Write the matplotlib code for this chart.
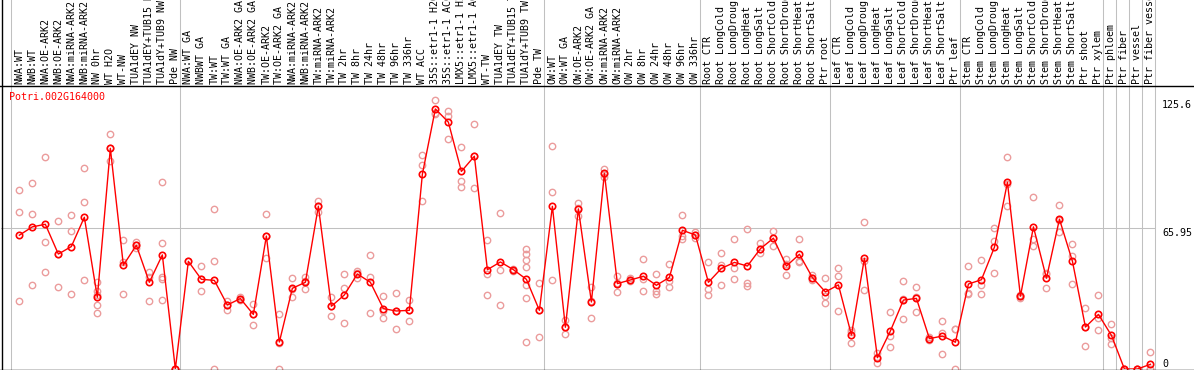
import matplotlib
matplotlib.use("Agg")
import matplotlib.pyplot as plt
import matplotlib.transforms as mtransforms
from matplotlib.lines import Line2D

# sample labels, left to right
labels = ["NWA:WT", "NWB:WT", "NWA:OE-ARK2", "NWB:OE-ARK2", "NWA:miRNA-ARK2", "NWB:miRNA-ARK2",
          "NW 0hr", "WT H2O", "WT-NW", "TUA1dEY NW", "TUA1dEY+TUB15 NW", "TUA1dY+TUB9 NW", "Pde NW",
          "NWA:WT GA", "NWBWT GA", "TW:WT", "TW:WT GA", "NWA:OE-ARK2 GA", "NWB:OE-ARK2 GA",
          "TW:OE-ARK2", "TW:OE-ARK2 GA", "NWA:miRNA-ARK2", "NWB:miRNA-ARK2", "TW:miRNA-ARK2",
          "TW:miRNA-ARK2", "TW 2hr", "TW 8hr", "TW 24hr", "TW 48hr", "TW 96hr", "TW 336hr", "WT ACC",
          "35S::etr1-1 H2O", "35S::etr1-1 ACC", "LMX5::etr1-1 H2O", "LMX5::etr1-1 ACC", "WT-TW",
          "TUA1dEY TW", "TUA1dEY+TUB15 TW", "TUA1dY+TUB9 TW", "Pde TW",
          "OW:WT", "OW:WT GA", "OW:OE-ARK2", "OW:OE-ARK2 GA", "OW:miRNA-ARK2", "OW:miRNA-ARK2",
          "OW 2hr", "OW 8hr", "OW 24hr", "OW 48hr", "OW 96hr", "OW 336hr",
          "Root CTR", "Root LongCold", "Root LongDrought", "Root LongHeat", "Root LongSalt",
          "Root ShortCold", "Root ShortDrought", "Root ShortHeat", "Root ShortSalt", "Ptr root",
          "Leaf CTR", "Leaf LongCold", "Leaf LongDrought", "Leaf LongHeat", "Leaf LongSalt",
          "Leaf ShortCold", "Leaf ShortDrought", "Leaf ShortHeat", "Leaf ShortSalt", "Ptr leaf",
          "Stem CTR", "Stem LongCold", "Stem LongDrought", "Stem LongHeat", "Stem LongSalt",
          "Stem ShortCold", "Stem ShortDrought", "Stem ShortHeat", "Stem ShortSalt", "Ptr shoot",
          "Ptr xylem", "Ptr phloem", "Ptr fiber", "Ptr vessel", "Ptr fiber vessel"]

# mean expression per sample
means = [62.5, 66.4, 67.6, 53.7, 57.2, 70.9, 33.5, 103.1, 48.5, 57.8, 40.5, 53.3, 0.0,
         50.3, 41.9, 41.4, 29.9, 32.9, 25.5, 62.1, 12.6, 37.7, 40.5, 76.0, 29.3, 34.6, 44.4,
         40.5, 28.2, 27.1, 27.4, 91.0, 121.5, 115.3, 92.3, 99.4, 46.4, 50.0, 46.4, 41.9, 27.4,
         76.0, 19.5, 74.8, 31.3, 91.4, 39.9, 41.6, 43.3, 39.1, 42.8, 64.8, 62.6,
         40.5, 47.0, 49.8, 48.1, 56.2, 61.1, 48.1, 53.6, 42.7, 36.0,
         39.3, 15.9, 51.7, 5.3, 17.8, 32.2, 33.0, 14.2, 15.4, 12.5,
         39.7, 41.7, 56.9, 87.2, 34.0, 66.4, 42.4, 70.0, 50.3, 19.6, 25.5,
         15.7, 0.0, 0.0, 2.2]

# individual replicates per sample
replicates = [
    [83.6, 73.2, 31.8], [86.9, 72.3, 39.3], [98.9, 59.2, 45.2], [69.0, 38.2, 53.7],
    [72.0, 64.3, 35.0], [93.8, 77.9, 41.4], [40.5, 36.4, 29.9, 26.3, 34.5], [109.7, 97.2, 103.1],
    [60.1, 50.2, 35.0], [59.5, 57.8, 56.5], [45.5, 43.1, 31.8], [87.2, 58.9, 42.8, 42.0, 32.1],
    [0.0, 0.0, 0.0],
    [50.3], [48.0, 36.4, 41.9], [74.8, 50.3, 0.0], [31.9, 27.6, 29.9], [32.9, 33.5, 32.3],
    [30.5, 20.4, 25.5], [72.3, 51.7, 62.1], [25.7, 0.0, 12.1], [42.4, 33.5, 37.2],
    [43.1, 37.4, 40.9], [78.5, 73.5, 76.0], [33.5, 24.9, 29.5], [44.4, 37.7, 21.5],
    [45.9, 42.4, 44.9], [53.1, 43.1, 26.2], [34.0, 23.7, 26.9], [35.5, 18.7, 27.1],
    [32.1, 22.4, 27.7], [99.8, 95.2, 78.4], [125.6, 119.2, 119.7], [120.6, 118.1, 107.5],
    [103.6, 88.0, 85.2], [114.3, 84.4, 99.4], [60.1, 44.2, 34.4], [72.8, 46.4, 29.8],
    [46.8, 45.9, 46.4], [56.1, 53.6, 51.1, 47.8, 39.4, 33.0, 12.5], [40.0, 14.8, 27.4],
    [104.1, 82.6, 41.4], [22.9, 16.2, 19.5], [77.6, 71.5, 75.3], [38.5, 23.7, 31.7],
    [93.5, 89.6, 91.1], [43.5, 36.0, 40.2], [41.6, 40.9, 42.3], [51.3, 36.4, 42.2],
    [44.2, 36.4, 35.0], [49.1, 38.3, 41.0], [71.8, 60.7, 61.9], [63.9, 61.3, 62.6],
    [49.8, 37.4, 34.6], [54.0, 48.6, 39.3], [60.7, 47.3, 41.9], [65.4, 40.3, 38.8],
    [58.7, 54.0, 56.2], [64.3, 57.6, 61.4], [51.4, 43.8, 49.1], [60.6, 50.3, 49.9],
    [44.1, 41.4, 42.7], [42.4, 34.1, 30.7],
    [47.2, 43.3, 27.1], [18.2, 12.0, 17.5], [68.5, 50.3, 36.9], [7.3, 2.9, 5.7],
    [26.5, 15.6, 10.3], [41.0, 32.6, 23.2], [38.2, 33.8, 26.5], [14.9, 13.5, 14.2],
    [22.4, 6.9, 16.9], [18.8, 18.5, 0.0],
    [48.0, 35.5, 35.0], [50.8, 39.3, 35.0], [65.7, 60.0, 44.9], [98.9, 76.3, 86.4],
    [34.8, 33.2, 34.0], [80.4, 60.9, 57.3], [45.0, 37.7, 44.5], [76.5, 63.9, 69.6],
    [58.3, 52.9, 39.7], [28.4, 10.6, 19.8], [34.4, 18.2, 23.9],
    [20.9, 11.7, 14.5], [0.0, 0.0, 0.0], [0.0, 0.0, 0.0], [7.8, 0.0, 0.0],
]

# last sample index of each group (group separators)
group_ends = [-1, 12, 40, 52, 62, 72, 83, 84, 85, 86, 87]
gene = "Potri.002G164000"
ref_value = 65.95
max_value = 125.6

W, H = 1194, 370
fig = plt.figure(figsize=(W / 100, H / 100), dpi=100)
ax = fig.add_axes([1 / W, 1 / H, 1154 / W, 283 / H])
ax.set_xlim(-1.41, 87.35)
ax.set_ylim(0, 132.2)
ax.axis("off")

mono = "DejaVu Sans Mono"
red = "#ff0000"
pink = "#eb9c9c"
grey = "#c0c0c0"

# grid lines
ax.axhline(ref_value, color=grey, lw=0.75, zorder=1)
for g in group_ends:
    ax.axvline(g + 0.385, ymin=0, ymax=369 / 283, color=grey, lw=0.75, clip_on=False, zorder=1)

# replicates
for i, vals in enumerate(replicates):
    ax.plot([i] * len(vals), vals, linestyle="none", marker="o", ms=4.6,
            mfc="none", mec=pink, mew=1.0, zorder=2)

# means
x = list(range(len(means)))
ax.plot(x, means, color=red, lw=1.0, marker="o", ms=4.6, mfc="none",
        mec=red, mew=1.2, zorder=3)

# frame lines
fig.add_artist(Line2D([1.5 / W, 1.5 / W], [0, 1], color="black", lw=1.0))
fig.add_artist(Line2D([0, 1], [1 - 86 / H, 1 - 86 / H], color="black", lw=1.0))
fig.add_artist(Line2D([0, 1], [1 - 369.5 / H, 1 - 369.5 / H], color="black", lw=1.0))

# sample labels in header
trans = mtransforms.blended_transform_factory(ax.transData, fig.transFigure)
for i, lab in enumerate(labels):
    ax.text(i, 1 - 84 / H, lab, transform=trans, rotation=90, ha="center", va="bottom",
            family=mono, fontsize=7.2, color="black", clip_on=False)

# gene name
fig.text(9 / W, 1 - 96.5 / H, gene, color=red, ha="left", va="center",
         family=mono, fontsize=7.2)

# value labels on right
ytrans = mtransforms.blended_transform_factory(fig.transFigure, ax.transData)
ax.text(1162 / W, max_value, f"{max_value}", transform=ytrans, ha="left", va="top",
        family=mono, fontsize=7.2, clip_on=False)
ax.text(1162 / W, ref_value, f"{ref_value}", transform=ytrans, ha="left", va="top",
        family=mono, fontsize=7.2, clip_on=False)
ax.text(1162 / W, 0, "0", transform=ytrans, ha="left", va="bottom",
        family=mono, fontsize=7.2, clip_on=False)

fig.savefig("out.png", dpi=100)
